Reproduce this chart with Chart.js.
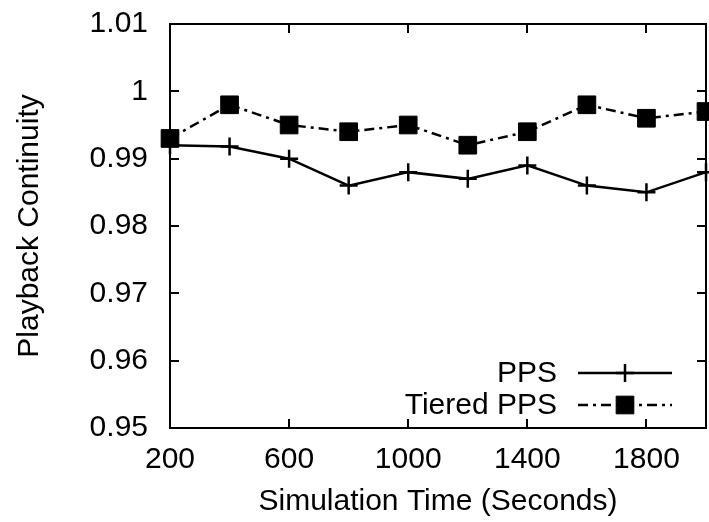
<!DOCTYPE html>
<html><head><meta charset="utf-8">
<script src="https://cdn.jsdelivr.net/npm/chart.js@4/dist/chart.umd.min.js"></script>
<style>html,body{margin:0;padding:0;background:#fff}#wrap{width:709px;height:522px}</style>
</head><body><div id="wrap"><canvas id="c" width="709" height="522"></canvas></div>
<script>
const simTime = [200, 400, 600, 800, 1000, 1200, 1400, 1600, 1800, 2000];
const pps = [0.992, 0.9918, 0.990, 0.986, 0.988, 0.987, 0.989, 0.986, 0.985, 0.988];
const tieredPps = [0.993, 0.998, 0.995, 0.994, 0.995, 0.992, 0.994, 0.998, 0.996, 0.997];
const seriesNames = ['PPS', 'Tiered PPS'];
const xTicks = [200, 600, 1000, 1400, 1800];
const xTickLabels = ['200', '600', '1000', '1400', '1800'];
const yTicks = [0.95, 0.96, 0.97, 0.98, 0.99, 1, 1.01];
const yTickLabels = ['0.95', '0.96', '0.97', '0.98', '0.99', '1', '1.01'];
const xTitle = 'Simulation Time (Seconds)';
const yTitle = 'Playback Continuity';

const FONT = 'Liberation Sans, Arial, sans-serif';
const FS = 30;

const framePlugin = {
  id: 'frame',
  beforeDatasetsDraw(chart) {
    const {ctx, chartArea: a, scales} = chart;
    ctx.save();
    ctx.strokeStyle = '#000';
    ctx.lineWidth = 2;
    const tl = 9;
    ctx.beginPath();
    scales.y.ticks.forEach(t => {
      const y = Math.round(scales.y.getPixelForValue(t.value));
      ctx.moveTo(a.left, y); ctx.lineTo(a.left + tl, y);
      ctx.moveTo(a.right, y); ctx.lineTo(a.right - tl, y);
    });
    scales.x.ticks.forEach(t => {
      const x = Math.round(scales.x.getPixelForValue(t.value));
      ctx.moveTo(x, a.bottom); ctx.lineTo(x, a.bottom - tl);
      ctx.moveTo(x, a.top); ctx.lineTo(x, a.top + tl);
    });
    ctx.stroke();
    ctx.strokeRect(a.left, a.top, a.right - a.left, a.bottom - a.top);
    ctx.restore();
  },
  afterDraw(chart) {
    const {ctx, chartArea: a} = chart;
    const rows = [a.bottom - 55, a.bottom - 23];
    const textRight = a.right - 149, x1 = a.right - 128, x2 = a.right - 34;
    ctx.save();
    chart.data.datasets.forEach((ds, i) => {
      const y = rows[i];
      ctx.fillStyle = '#000';
      ctx.font = FS + 'px ' + FONT;
      ctx.textAlign = 'right';
      ctx.textBaseline = 'middle';
      ctx.fillText(ds.label, textRight, y + 1);
      ctx.strokeStyle = ds.borderColor;
      ctx.lineWidth = ds.borderWidth;
      ctx.setLineDash(ds.borderDash || []);
      ctx.beginPath(); ctx.moveTo(x1, y); ctx.lineTo(x2, y); ctx.stroke();
      ctx.setLineDash([]);
      ctx.fillStyle = ds.pointBackgroundColor;
      ctx.strokeStyle = ds.pointBorderColor;
      ctx.lineWidth = ds.pointBorderWidth;
      Chart.helpers.drawPoint(ctx, {pointStyle: ds.pointStyle, radius: ds.pointRadius, borderWidth: ds.pointBorderWidth, rotation: 0}, (x1 + x2) / 2, y);
    });
    ctx.restore();
  }
};

function zeroPad(s) { s.paddingTop = 0; s.paddingBottom = 0; s.paddingLeft = 0; s.paddingRight = 0; }

new Chart(document.getElementById('c'), {
  type: 'line',
  data: {
    datasets: [
      {
        label: seriesNames[0],
        data: simTime.map((x, i) => ({x, y: pps[i]})),
        borderColor: '#000', borderWidth: 2.5, borderDash: [],
        pointStyle: 'cross', pointRadius: 9, pointBorderWidth: 2.5,
        pointBackgroundColor: '#000', pointBorderColor: '#000',
        tension: 0, fill: false, clip: false
      },
      {
        label: seriesNames[1],
        data: simTime.map((x, i) => ({x, y: tieredPps[i]})),
        borderColor: '#000', borderWidth: 2.5, borderDash: [10, 5, 3, 5],
        pointStyle: 'rect', pointRadius: 12.5, pointBorderWidth: 1,
        pointBackgroundColor: '#000', pointBorderColor: '#000',
        tension: 0, fill: false, clip: false
      }
    ]
  },
  options: {
    responsive: false, animation: false, devicePixelRatio: 1,
    layout: {autoPadding: false, padding: {left: 0, right: 3, top: 24, bottom: 0}},
    plugins: {legend: {display: false}, tooltip: {enabled: false}},
    scales: {
      x: {
        type: 'linear', min: 200, max: 2000,
        afterBuildTicks: s => { s.ticks = xTicks.map(v => ({value: v})); },
        afterFit: s => { s.height = 94; zeroPad(s); },
        grid: {display: false, drawTicks: false},
        border: {display: false},
        ticks: {font: {family: FONT, size: FS}, color: '#000', padding: 14, maxRotation: 0, autoSkip: false,
          callback: v => xTickLabels[xTicks.indexOf(v)]},
        title: {display: true, text: xTitle, color: '#000', font: {family: FONT, size: FS, lineHeight: 1}, padding: {top: 0, bottom: 5}}
      },
      y: {
        type: 'linear', min: 0.95, max: 1.01,
        afterBuildTicks: s => { s.ticks = yTicks.map(v => ({value: v})); },
        afterFit: s => { s.width = 170; zeroPad(s); },
        grid: {display: false, drawTicks: false},
        border: {display: false},
        ticks: {font: {family: FONT, size: FS}, color: '#000', padding: 22,
          callback: v => yTickLabels[yTicks.indexOf(v)]},
        title: {display: true, text: yTitle, color: '#000', font: {family: FONT, size: FS, lineHeight: 1}, padding: {top: 15, bottom: 0}}
      }
    }
  },
  plugins: [framePlugin]
});
</script>
</body></html>
